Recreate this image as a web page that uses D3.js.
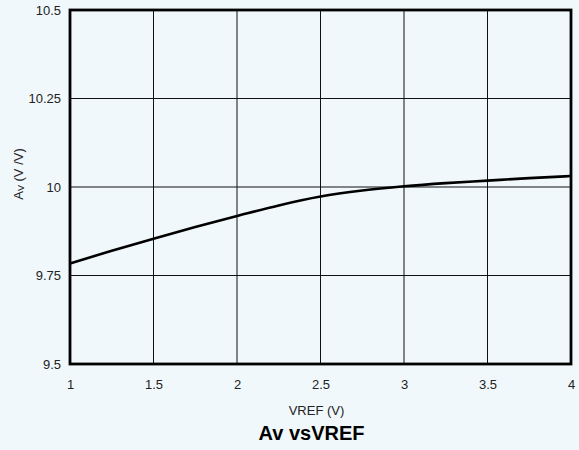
<!DOCTYPE html>
<html><head><meta charset="utf-8">
<script src="https://cdn.jsdelivr.net/npm/d3@7"></script>
<style>body{margin:0;background:#f1f8fb;} svg{display:block;}</style>
</head><body><svg id="c" width="579" height="450"></svg>
<script>
const xTicks = [1, 1.5, 2, 2.5, 3, 3.5, 4];
const yTicks = [9.5, 9.75, 10, 10.25, 10.5];
const yTickLabels = ["9.5", "9.75", "10", "10.25", "10.5"];
const vref = [1, 1.25, 1.5, 1.75, 2, 2.25, 2.5, 2.75, 3, 3.25, 3.5, 3.75, 4];
const av = [9.784, 9.82, 9.854, 9.887, 9.918, 9.948, 9.973, 9.99, 10.002, 10.011, 10.018, 10.025, 10.031];

const svg = d3.select("#c");
const font = "'Liberation Sans', Arial, sans-serif";
svg.append("rect").attr("width", 579).attr("height", 450).attr("fill", "#f1f8fb");
const L = 70, R = 571, T = 10, B = 364;
const x = d3.scaleLinear().domain([1, 4]).range([L, R]);
const y = d3.scaleLinear().domain([9.5, 10.5]).range([B, T]);

const g = svg.append("g");
g.selectAll("line.vx").data(xTicks).enter().append("line")
  .attr("x1", d => x(d)).attr("x2", d => x(d)).attr("y1", T).attr("y2", B)
  .attr("stroke", "#111").attr("stroke-width", 1);
g.selectAll("line.hy").data(yTicks).enter().append("line")
  .attr("y1", d => y(d)).attr("y2", d => y(d)).attr("x1", L).attr("x2", R)
  .attr("stroke", "#111").attr("stroke-width", 1);

const line = d3.line().x((d, i) => x(vref[i])).y(d => y(d)).curve(d3.curveMonotoneX);
g.append("path").datum(av).attr("d", line).attr("fill", "none")
  .attr("stroke", "#000").attr("stroke-width", 2.6);

g.append("rect").attr("x", L).attr("y", T).attr("width", R - L).attr("height", B - T)
  .attr("fill", "none").attr("stroke", "#000").attr("stroke-width", 2.8);

const xAxis = d3.axisBottom(x).tickValues(xTicks).tickSize(0).tickPadding(16).tickFormat(d3.format(""));
const xa = svg.append("g").attr("transform", `translate(0,${B})`).call(xAxis);
xa.select(".domain").remove();
xa.selectAll("text").attr("font-family", font).attr("font-size", 13).attr("fill", "#222");

const yAxis = d3.axisLeft(y).tickValues(yTicks).tickSize(0).tickPadding(9)
  .tickFormat((d, i) => yTickLabels[i]);
const ya = svg.append("g").attr("transform", `translate(${L},0)`).call(yAxis);
ya.select(".domain").remove();
ya.selectAll("text").attr("font-family", font).attr("font-size", 13).attr("fill", "#222");

svg.append("text").attr("x", (L + R) / 2 - 4).attr("y", 415).attr("text-anchor", "middle")
  .attr("font-family", font).attr("font-size", 13).attr("fill", "#222").text("VREF (V)");
svg.append("text").attr("x", (L + R) / 2 - 9).attr("y", 440).attr("text-anchor", "middle")
  .attr("font-family", font).attr("font-size", 20).attr("font-weight", "bold").attr("fill", "#000").text("Av vsVREF");

const yl = svg.append("text").attr("transform", `translate(23,174) rotate(-90)`)
  .attr("text-anchor", "middle").attr("font-family", font).attr("font-size", 13).attr("fill", "#222");
yl.append("tspan").text("A");
yl.append("tspan").attr("font-size", 9).attr("dy", 1).text("V");
yl.append("tspan").attr("dy", -1).text(" (V /V)");
</script></body></html>
